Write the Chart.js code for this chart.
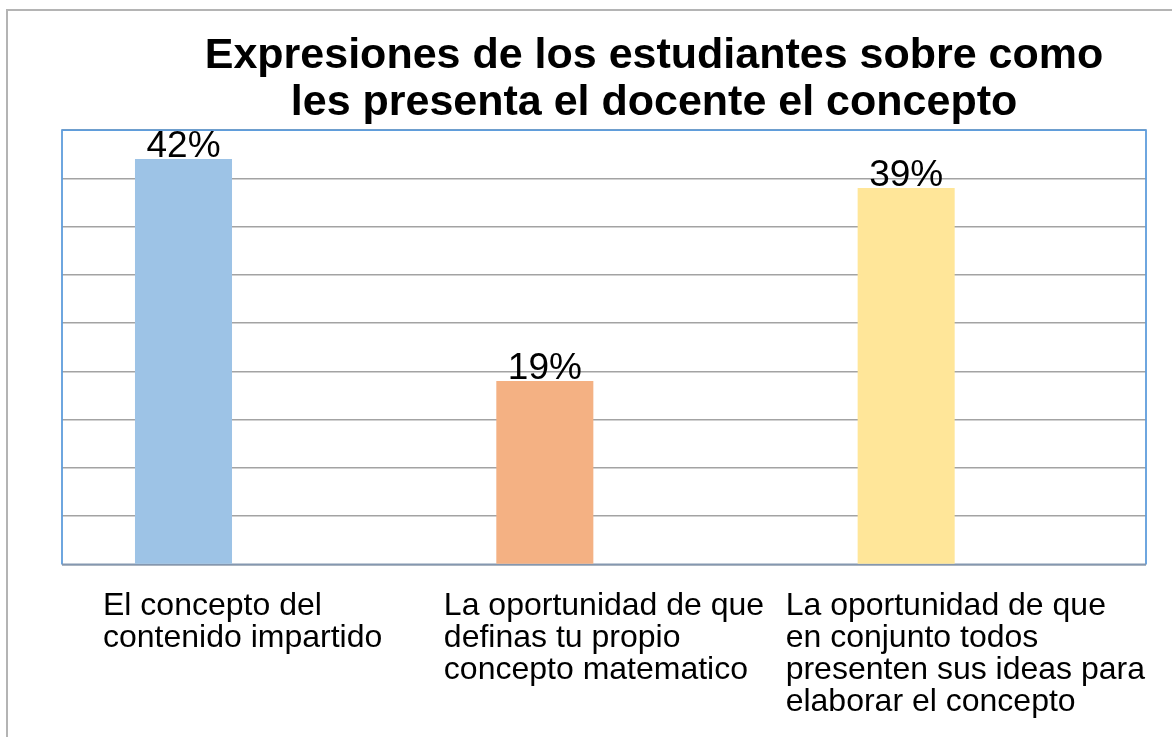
<!DOCTYPE html>
<html>
<head>
<meta charset="utf-8">
<script src="https://cdn.jsdelivr.net/npm/chart.js@4.4.1/dist/chart.umd.min.js"></script>
<style>
  html, body { margin: 0; padding: 0; background: #fff; overflow: hidden; }
  body { width: 1172px; height: 737px; position: relative; }
  #frame { position: absolute; left: 6px; top: 9px; width: 1400px; height: 900px;
           border-left: 2px solid #b4b4b4; border-top: 2px solid #b4b4b4; }
  #myChart { position: absolute; left: 0; top: 0; }
</style>
</head>
<body>
<div id="frame"></div>
<canvas id="myChart" width="1246" height="737"></canvas>
<script>
const ctx = document.getElementById('myChart');

const FONT = '"Liberation Sans", Arial, sans-serif';

// data
const categories = [
  ['El concepto del', 'contenido impartido'],
  ['La oportunidad de que', 'definas tu propio', 'concepto matematico'],
  ['La oportunidad de que', 'en conjunto todos', 'presenten sus ideas para', 'elaborar el concepto'],
];
const percentages = [42, 19, 39];
const emptySeries = [null, null, null]; // second (empty) series of the sheet
const barColors = ['#9dc3e6', '#f4b183', '#ffe699'];
const yMax = 45;
const yStep = 5;
const titleLines = ['Expresiones de los estudiantes sobre como', 'les presenta el docente el concepto'];

// blue frame round the plot area
const plotFrame = {
  id: 'plotFrame',
  beforeDatasetsDraw(chart) {
    const { ctx, chartArea: a } = chart;
    ctx.save();
    ctx.strokeStyle = '#5f9ddc';
    ctx.lineWidth = 1.8;
    ctx.beginPath();
    ctx.moveTo(a.left, a.bottom);
    ctx.lineTo(a.left, a.top);
    ctx.lineTo(a.right, a.top);
    ctx.lineTo(a.right, a.bottom);
    ctx.stroke();
    ctx.strokeStyle = '#8497b0';
    ctx.beginPath();
    ctx.moveTo(a.left, a.bottom);
    ctx.lineTo(a.right, a.bottom);
    ctx.stroke();
    ctx.restore();
  },
};

// value labels above bars
const valueLabels = {
  id: 'valueLabels',
  afterDatasetsDraw(chart) {
    const { ctx } = chart;
    const meta = chart.getDatasetMeta(0);
    ctx.save();
    ctx.font = '37px ' + FONT;
    ctx.fillStyle = '#000';
    ctx.textAlign = 'center';
    ctx.textBaseline = 'alphabetic';
    meta.data.forEach((bar, i) => {
      ctx.fillText(percentages[i] + '%', bar.x, bar.y - 2);
    });
    ctx.restore();
  },
};

// category labels: block centred on the tick, lines left aligned
const categoryLabels = {
  id: 'categoryLabels',
  afterDraw(chart) {
    const { ctx, chartArea: a } = chart;
    const xScale = chart.scales.x;
    ctx.save();
    ctx.font = '32px ' + FONT;
    ctx.fillStyle = '#000';
    ctx.textAlign = 'left';
    ctx.textBaseline = 'alphabetic';
    categories.forEach((lines, i) => {
      const w = Math.max(...lines.map((l) => ctx.measureText(l).width));
      const left = xScale.getPixelForTick(i) - w / 2;
      lines.forEach((line, j) => {
        ctx.fillText(line, left, a.bottom + 50 + j * 32);
      });
    });
    ctx.restore();
  },
};

const myChart = new Chart(ctx, {
  type: 'bar',
  data: {
    labels: categories,
    datasets: [
      {
        label: 'Serie 1',
        data: percentages,
        backgroundColor: barColors,
        borderWidth: 0,
        categoryPercentage: 0.655,
        barPercentage: 0.82,
      },
      {
        label: 'Serie 2',
        data: emptySeries,
        backgroundColor: 'transparent',
        categoryPercentage: 0.655,
        barPercentage: 0.82,
      },
    ],
  },
  options: {
    responsive: false,
    animation: false,
    events: [],
    layout: {
      padding: { left: 62, right: 0, top: 0, bottom: 0 },
    },
    scales: {
      x: {
        grid: { display: false, drawTicks: false },
        border: { display: false },
        ticks: { display: false },
        afterFit: (scale) => { scale.height = 172.5; },
      },
      y: {
        position: 'right',
        min: 0,
        max: yMax,
        ticks: { display: false, stepSize: yStep },
        grid: { color: '#a3a3a3', lineWidth: 1.6, drawTicks: false },
        border: { display: false },
        afterFit: (scale) => { scale.width = 100; },
      },
    },
    plugins: {
      legend: { display: false },
      tooltip: { enabled: false },
      title: {
        display: true,
        text: titleLines,
        color: '#000',
        font: { family: FONT, size: 43, weight: 'bold', lineHeight: 1.105 },
        padding: { top: 32, bottom: 3 },
      },
    },
  },
  plugins: [plotFrame, valueLabels, categoryLabels],
});
</script>
</body>
</html>
